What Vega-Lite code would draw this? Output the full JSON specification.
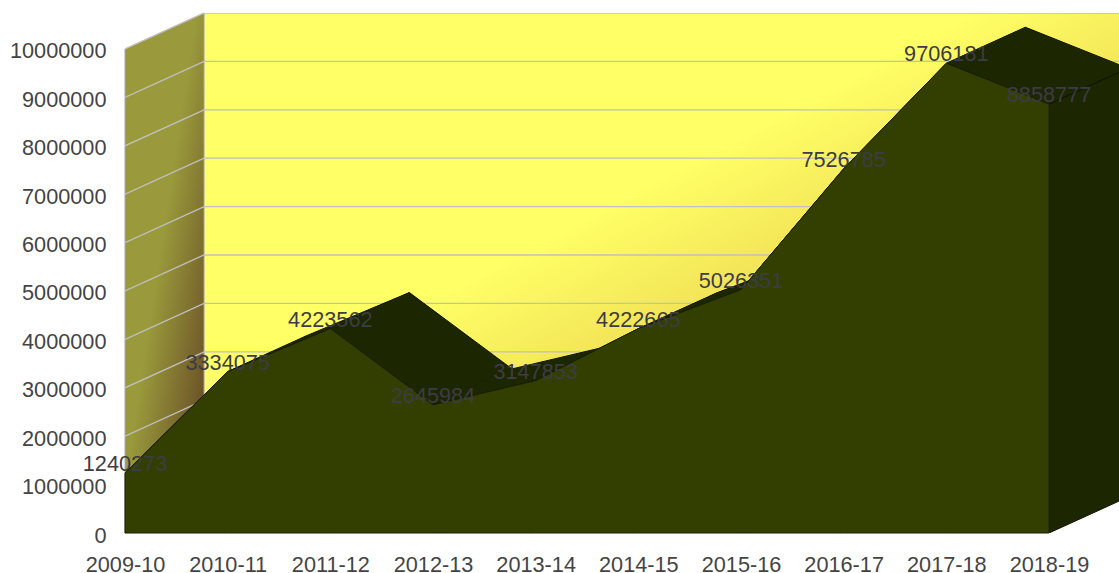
{
"$schema":"https://vega.github.io/schema/vega-lite/v6.json",
"width":994,"height":520,"autosize":"none",
"padding":{"left":125,"top":13,"right":0,"bottom":40},
"background":"white",
"config":{"view":{"stroke":null},"font":"Liberation Sans"},
"datasets":{
"series":[
{"year":"2009-10","x":0,"y":1240273},{"year":"2010-11","x":1,"y":3334075},{"year":"2011-12","x":2,"y":4223562},{"year":"2012-13","x":3,"y":2645984},{"year":"2013-14","x":4,"y":3147853},{"year":"2014-15","x":5,"y":4222665},{"year":"2015-16","x":6,"y":5026351},{"year":"2016-17","x":7,"y":7526785},{"year":"2017-18","x":8,"y":9706181},{"year":"2018-19","x":9,"y":8858777}],
"roof":[
{"k":0,"o":0,"x":0,"y":1240273},{"k":0,"o":1,"x":1,"y":3334075},{"k":0,"o":2,"x":1.77,"y":4077875},{"k":0,"o":3,"x":0.77,"y":1984073},
{"k":1,"o":0,"x":1,"y":3334075},{"k":1,"o":1,"x":2,"y":4223562},{"k":1,"o":2,"x":2.77,"y":4967362},{"k":1,"o":3,"x":1.77,"y":4077875},
{"k":2,"o":0,"x":2,"y":4223562},{"k":2,"o":1,"x":3,"y":2645984},{"k":2,"o":2,"x":3.77,"y":3389784},{"k":2,"o":3,"x":2.77,"y":4967362},
{"k":3,"o":0,"x":3,"y":2645984},{"k":3,"o":1,"x":4,"y":3147853},{"k":3,"o":2,"x":4.77,"y":3891653},{"k":3,"o":3,"x":3.77,"y":3389784},
{"k":4,"o":0,"x":4,"y":3147853},{"k":4,"o":1,"x":5,"y":4222665},{"k":4,"o":2,"x":5.77,"y":4966465},{"k":4,"o":3,"x":4.77,"y":3891653},
{"k":5,"o":0,"x":5,"y":4222665},{"k":5,"o":1,"x":6,"y":5026351},{"k":5,"o":2,"x":6.77,"y":5770151},{"k":5,"o":3,"x":5.77,"y":4966465},
{"k":6,"o":0,"x":6,"y":5026351},{"k":6,"o":1,"x":7,"y":7526785},{"k":6,"o":2,"x":7.77,"y":8270585},{"k":6,"o":3,"x":6.77,"y":5770151},
{"k":7,"o":0,"x":7,"y":7526785},{"k":7,"o":1,"x":8,"y":9706181},{"k":7,"o":2,"x":8.77,"y":10449981},{"k":7,"o":3,"x":7.77,"y":8270585},
{"k":8,"o":0,"x":8,"y":9706181},{"k":8,"o":1,"x":9,"y":8858777},{"k":8,"o":2,"x":9.77,"y":9602577},{"k":8,"o":3,"x":8.77,"y":10449981},
{"k":9,"o":0,"x":9,"y":8858777},{"k":9,"o":1,"x":9.77,"y":9602577},{"k":9,"o":2,"x":9.77,"y":743800},{"k":9,"o":3,"x":9,"y":0}],
"grid":[
{"k":0,"o":0,"x":0,"y":0},{"k":0,"o":1,"x":0.77,"y":743800},{"k":0,"o":2,"x":9.8,"y":743800},
{"k":1,"o":0,"x":0,"y":1000000},{"k":1,"o":1,"x":0.77,"y":1743800},{"k":1,"o":2,"x":9.8,"y":1743800},
{"k":2,"o":0,"x":0,"y":2000000},{"k":2,"o":1,"x":0.77,"y":2743800},{"k":2,"o":2,"x":9.8,"y":2743800},
{"k":3,"o":0,"x":0,"y":3000000},{"k":3,"o":1,"x":0.77,"y":3743800},{"k":3,"o":2,"x":9.8,"y":3743800},
{"k":4,"o":0,"x":0,"y":4000000},{"k":4,"o":1,"x":0.77,"y":4743800},{"k":4,"o":2,"x":9.8,"y":4743800},
{"k":5,"o":0,"x":0,"y":5000000},{"k":5,"o":1,"x":0.77,"y":5743800},{"k":5,"o":2,"x":9.8,"y":5743800},
{"k":6,"o":0,"x":0,"y":6000000},{"k":6,"o":1,"x":0.77,"y":6743800},{"k":6,"o":2,"x":9.8,"y":6743800},
{"k":7,"o":0,"x":0,"y":7000000},{"k":7,"o":1,"x":0.77,"y":7743800},{"k":7,"o":2,"x":9.8,"y":7743800},
{"k":8,"o":0,"x":0,"y":8000000},{"k":8,"o":1,"x":0.77,"y":8743800},{"k":8,"o":2,"x":9.8,"y":8743800},
{"k":9,"o":0,"x":0,"y":9000000},{"k":9,"o":1,"x":0.77,"y":9743800},{"k":9,"o":2,"x":9.8,"y":9743800},
{"k":10,"o":0,"x":0,"y":10000000},{"k":10,"o":1,"x":0.77,"y":10743800},{"k":10,"o":2,"x":9.8,"y":10743800}]
},
"encoding":{
"x":{"field":"x","type":"quantitative","scale":{"domain":[0,9.682],"nice":false,"zero":false},
 "axis":{"title":null,"values":[0,1,2,3,4,5,6,7,8,9],"grid":false,"domain":false,"ticks":false,"labelPadding":21,"labelFontSize":21.7,"labelFont":"Liberation Sans","labelColor":"#444444","labelFlush":false,"labelBound":false,"labelOverlap":false,
 "labelExpr":"['2009-10','2010-11','2011-12','2012-13','2013-14','2014-15','2015-16','2016-17','2017-18','2018-19'][datum.value]"}},
"y":{"field":"y","type":"quantitative","scale":{"domain":[0,10743800],"nice":false,"zero":true},
 "axis":{"title":null,"values":[0,1000000,2000000,3000000,4000000,5000000,6000000,7000000,8000000,9000000,10000000],"format":"d","grid":false,"domain":false,"ticks":false,"labelPadding":19,"labelOffset":2,"labelFontSize":21.7,"labelFont":"Liberation Sans","labelColor":"#444444","labelBound":false,"labelFlush":false,"labelOverlap":false}}
},
"layer":[
{"data":{"values":[{"x":0.77,"x2":9.682,"y":743800,"y2":10743800}]},
 "mark":{"type":"rect","fill":{"gradient":"linear","x1":0.42,"y1":0.42,"x2":1,"y2":1,"stops":[{"offset":0,"color":"#ffff66"},{"offset":0.3,"color":"#f0e055"},{"offset":1,"color":"#a89060"}]}},
 "encoding":{"x2":{"field":"x2"},"y2":{"field":"y2"}}},
{"data":{"values":[{"o":0,"x":0,"y":0},{"o":1,"x":0.77,"y":743800},{"o":2,"x":0.77,"y":10743800},{"o":3,"x":0,"y":10000000},{"o":4,"x":0,"y":0}]},
 "mark":{"type":"line","stroke":"#a8a8a8","strokeWidth":1,"fill":{"gradient":"linear","x1":0.45,"y1":0.45,"x2":0.875,"y2":0.875,"stops":[{"offset":0,"color":"#9a9a3c"},{"offset":1,"color":"#6b5228"}]}},
 "encoding":{"order":{"field":"o"}}},
{"data":{"name":"grid"},"mark":{"type":"line","stroke":"#c0c0c0","strokeWidth":1.3,"clip":true},
 "encoding":{"detail":{"field":"k"},"order":{"field":"o"}}},
{"data":{"name":"roof"},"mark":{"type":"line","fill":"#1c2600","stroke":"#0e1300","strokeWidth":1,"clip":true},
 "encoding":{"detail":{"field":"k"},"order":{"field":"o"}}},
{"data":{"name":"series"},"mark":{"type":"area","fill":"#333f00","stroke":"#1a2000","strokeWidth":1},
 "encoding":{"y2":{"datum":0}}},
{"data":{"name":"series"},"mark":{"type":"text","fontSize":21.7,"font":"Liberation Sans","dy":-9,"fill":"#3c3c44","align":"center"},
 "encoding":{"text":{"field":"y","type":"quantitative","format":"d"}}}
]
}
